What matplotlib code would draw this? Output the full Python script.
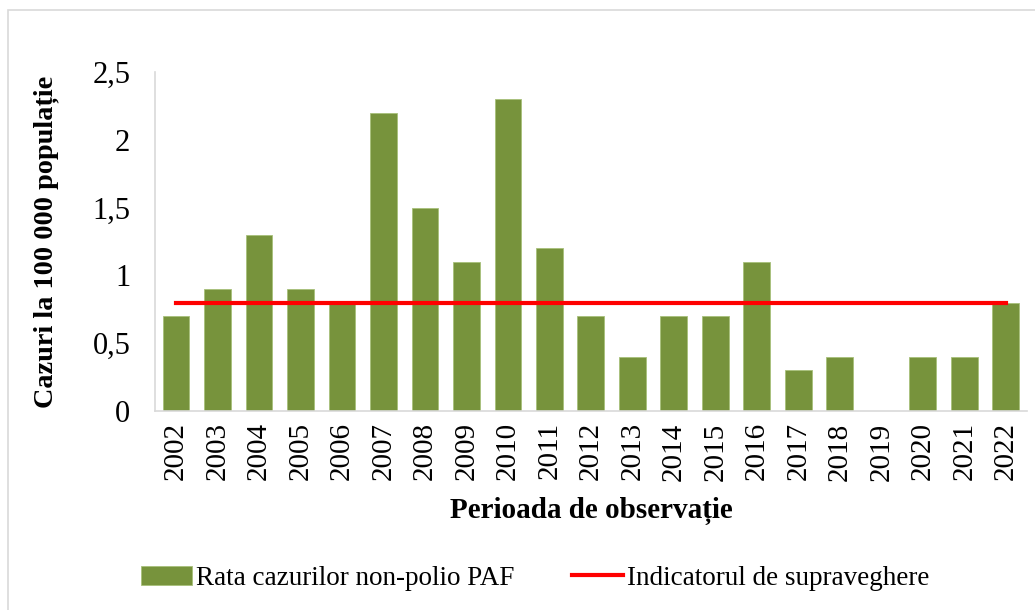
import matplotlib.pyplot as plt
from matplotlib.patches import Rectangle

plt.rcParams['font.family'] = ['Liberation Serif', 'DejaVu Serif']

# data
years = [str(y) for y in range(2002, 2023)]
rate = [0.7, 0.9, 1.3, 0.9, 0.8, 2.2, 1.5, 1.1, 2.3, 1.2, 0.7,
        0.4, 0.7, 0.7, 1.1, 0.3, 0.4, 0.0, 0.4, 0.4, 0.8]
indicator = [0.8] * len(years)
yticks = [0, 0.5, 1, 1.5, 2, 2.5]
ytick_labels = ['0', '0,5', '1', '1,5', '2', '2,5']

fig = plt.figure(figsize=(10.35, 6.1), dpi=100)
ax = fig.add_axes([0.150, 0.326, 0.842, 0.556])

x = range(len(years))
bars = ax.bar(x, rate, width=0.65, color='#77933C', edgecolor='#a8c07a',
              linewidth=0.6, label='Rata cazurilor non-polio PAF', zorder=2)
line, = ax.plot(x, indicator, color='#FF0000', linewidth=3,
                label='Indicatorul de supraveghere', zorder=3)

ax.set_xlim(-0.5, len(years) - 0.5)
ax.set_ylim(0, 2.5)
ax.set_yticks(yticks)
ax.set_yticklabels(ytick_labels, fontsize=22)
ax.set_xticks(list(x))
ax.set_xticklabels(years, rotation=90, fontsize=21)
ax.tick_params(length=0)
ax.tick_params(axis='y', pad=18)
ax.tick_params(axis='x', pad=8)

for s in ['top', 'right']:
    ax.spines[s].set_visible(False)
for s in ['left', 'bottom']:
    ax.spines[s].set_color('#d9d9d9')
    ax.spines[s].set_linewidth(1.2)

ax.set_ylabel('Cazuri la 100 000 populație', fontsize=20.3, fontweight='bold', labelpad=24)
ax.set_xlabel('Perioada de observație', fontsize=21, fontweight='bold', labelpad=12)

fig.legend([bars, line], [bars.get_label(), line.get_label()],
           loc='center', bbox_to_anchor=(0.517, 0.052), ncol=2, frameon=False,
           fontsize=19.5, handlelength=1.9, handletextpad=0.15, columnspacing=2.1)

# chart border
fig.patches.append(Rectangle((0.008, -0.01), 1.0, 0.994, transform=fig.transFigure,
                             fill=False, edgecolor='#d9d9d9', linewidth=1.2))

fig.savefig('out.png', dpi=100)
